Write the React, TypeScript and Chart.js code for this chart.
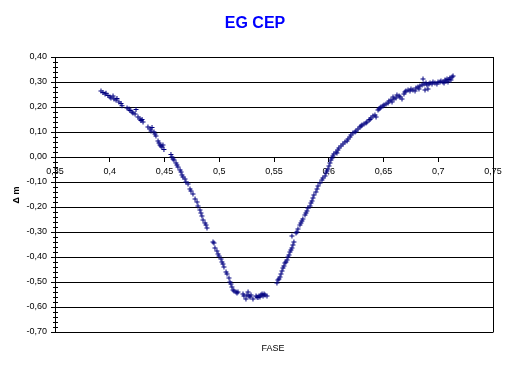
import React, { useEffect, useRef } from "react";
import { Chart, registerables } from "chart.js";

Chart.register(...registerables);

const TITLE = "EG CEP";
const X_TITLE = "FASE";
const Y_TITLE = "Δ m";

const X_MIN = 0.35;
const X_MAX = 0.75;
const X_STEP = 0.05;
const Y_MIN = -0.7;
const Y_MAX = 0.4;
const Y_STEP = 0.1;
const Y_MINOR_STEP = 0.02;

const PHASE = [
  0.3920, 0.3938, 0.3957, 0.3966, 0.3984, 0.4002, 0.4011, 0.4030, 0.4039, 0.4057,
  0.4066, 0.4084, 0.4103, 0.4112, 0.4158, 0.4176, 0.4185, 0.4203, 0.4212, 0.4231,
  0.4240, 0.4258, 0.4276, 0.4285, 0.4295, 0.4304, 0.4349, 0.4368, 0.4377, 0.4386,
  0.4404, 0.4413, 0.4422, 0.4441, 0.4450, 0.4459, 0.4468, 0.4477, 0.4486, 0.4495,
  0.4559, 0.4568, 0.4578, 0.4587, 0.4605, 0.4614, 0.4623, 0.4642, 0.4651, 0.4660,
  0.4669, 0.4687, 0.4696, 0.4715, 0.4733, 0.4742, 0.4760, 0.4779, 0.4797, 0.4806,
  0.4824, 0.4833, 0.4842, 0.4852, 0.4870, 0.4879, 0.4888,
  0.4943, 0.4952, 0.4961, 0.4979, 0.4989, 0.4998, 0.5016, 0.5025, 0.5034, 0.5043,
  0.5062, 0.5071, 0.5089, 0.5098, 0.5107, 0.5116, 0.5126, 0.5135, 0.5153, 0.5162,
  0.5171, 0.5217, 0.5226, 0.5244, 0.5253, 0.5263, 0.5272, 0.5281, 0.5290, 0.5308,
  0.5336, 0.5345, 0.5354, 0.5363, 0.5372, 0.5381, 0.5391, 0.5400, 0.5409, 0.5418,
  0.5436,
  0.5527, 0.5536, 0.5545, 0.5555, 0.5564, 0.5573, 0.5582, 0.5591, 0.5600, 0.5609,
  0.5619, 0.5628, 0.5637, 0.5646, 0.5655, 0.5664, 0.5664, 0.5673, 0.5682, 0.5701,
  0.5710, 0.5719, 0.5737, 0.5746, 0.5755, 0.5764, 0.5783, 0.5792, 0.5801, 0.5810,
  0.5829, 0.5838, 0.5847, 0.5856, 0.5865, 0.5883, 0.5893, 0.5902, 0.5920, 0.5938,
  0.5947, 0.5966, 0.5975, 0.5984, 0.5993, 0.6002, 0.6011, 0.6020, 0.6029, 0.6038,
  0.6047, 0.6066, 0.6075, 0.6084, 0.6093, 0.6112, 0.6130, 0.6148, 0.6167, 0.6176,
  0.6194, 0.6203, 0.6221, 0.6240, 0.6249, 0.6267, 0.6285, 0.6295, 0.6304, 0.6322,
  0.6340, 0.6349, 0.6368, 0.6377, 0.6386, 0.6404, 0.6422, 0.6432, 0.6450, 0.6459,
  0.6468, 0.6477, 0.6495, 0.6505, 0.6523, 0.6541, 0.6550, 0.6568, 0.6578, 0.6587,
  0.6596, 0.6614, 0.6623, 0.6642, 0.6651, 0.6669, 0.6687, 0.6696, 0.6705, 0.6724,
  0.6742, 0.6751, 0.6769, 0.6788, 0.6797, 0.6815, 0.6824, 0.6833, 0.6852, 0.6861,
  0.6870, 0.6879, 0.6888, 0.6897, 0.6906, 0.6915, 0.6925, 0.6943, 0.6952, 0.6970,
  0.6988, 0.6998, 0.7016, 0.7025, 0.7043, 0.7053, 0.7062, 0.7071, 0.7080, 0.7089,
  0.7098, 0.7107, 0.7116, 0.7126, 0.7135,
];

const DELTA_M = [
  0.264, 0.258, 0.252, 0.255, 0.246, 0.240, 0.236, 0.244, 0.232, 0.228,
  0.234, 0.220, 0.214, 0.205, 0.196, 0.192, 0.186, 0.180, 0.176, 0.172,
  0.190, 0.160, 0.152, 0.146, 0.150, 0.140, 0.120, 0.112, 0.104, 0.118,
  0.100, 0.092, 0.084, 0.064, 0.056, 0.048, 0.044, 0.040, 0.048, 0.030,
  0.010, 0.000, -0.008, -0.012, -0.024, -0.032, -0.040, -0.052, -0.060, -0.072,
  -0.080, -0.088, -0.100, -0.108, -0.128, -0.136, -0.148, -0.168, -0.180, -0.196,
  -0.212, -0.224, -0.236, -0.252, -0.264, -0.272, -0.284,
  -0.340, -0.344, -0.364, -0.376, -0.388, -0.396, -0.408, -0.420, -0.428, -0.440,
  -0.460, -0.468, -0.484, -0.500, -0.508, -0.520, -0.532, -0.536, -0.540, -0.544,
  -0.540, -0.548, -0.556, -0.568, -0.552, -0.540, -0.556, -0.560, -0.552, -0.568,
  -0.556, -0.560, -0.562, -0.556, -0.560, -0.552, -0.548, -0.556, -0.548, -0.552,
  -0.556,
  -0.504, -0.492, -0.488, -0.480, -0.468, -0.456, -0.444, -0.436, -0.424, -0.420,
  -0.412, -0.400, -0.392, -0.380, -0.372, -0.316, -0.364, -0.352, -0.340, -0.304,
  -0.300, -0.288, -0.272, -0.264, -0.256, -0.248, -0.232, -0.224, -0.216, -0.204,
  -0.196, -0.184, -0.176, -0.164, -0.152, -0.140, -0.128, -0.116, -0.104, -0.092,
  -0.084, -0.076, -0.064, -0.056, -0.048, -0.036, -0.024, -0.012, -0.004, 0.004,
  0.012, 0.020, 0.016, 0.028, 0.036, 0.044, 0.052, 0.060, 0.064, 0.072,
  0.080, 0.088, 0.096, 0.100, 0.104, 0.112, 0.120, 0.124, 0.128, 0.132,
  0.136, 0.140, 0.148, 0.150, 0.156, 0.164, 0.168, 0.160, 0.188, 0.192,
  0.196, 0.200, 0.204, 0.208, 0.212, 0.216, 0.224, 0.228, 0.220, 0.240,
  0.232, 0.236, 0.248, 0.244, 0.240, 0.232, 0.252, 0.260, 0.264, 0.268,
  0.264, 0.272, 0.268, 0.264, 0.276, 0.280, 0.272, 0.284, 0.288, 0.312,
  0.292, 0.268, 0.296, 0.288, 0.272, 0.292, 0.296, 0.292, 0.300, 0.296,
  0.292, 0.300, 0.300, 0.304, 0.300, 0.296, 0.308, 0.304, 0.312, 0.300,
  0.310, 0.316, 0.308, 0.320, 0.324,
];

const FONT = "'Liberation Sans', Arial, Helvetica, sans-serif";

const fmtX = (v: number) => String(Math.round(v * 100) / 100).replace(".", ",");
const fmtY = (v: number) => (Math.round(v * 100) / 100).toFixed(2).replace(".", ",");

const decorPlugin = {
  id: "decor",
  afterDraw(chart: any) {
    const { ctx, chartArea, scales } = chart;
    const ys = scales.y;
    ctx.save();
    ctx.strokeStyle = "#000";
    ctx.lineWidth = 1;
    ctx.beginPath();
    const rx = Math.round(chartArea.right) + 0.5;
    ctx.moveTo(rx, chartArea.top);
    ctx.lineTo(rx, chartArea.bottom + 0.5);
    const n = Math.round((Y_MAX - Y_MIN) / Y_MINOR_STEP);
    const lx = Math.round(chartArea.left);
    for (let i = 0; i <= n; i++) {
      const v = Y_MIN + i * Y_MINOR_STEP;
      const py = Math.round(ys.getPixelForValue(v)) + 0.5;
      ctx.moveTo(lx - 2, py);
      ctx.lineTo(lx + 3, py);
    }
    ctx.stroke();

    ctx.fillStyle = "#0000FF";
    ctx.font = `bold 16px ${FONT}`;
    ctx.textAlign = "center";
    ctx.textBaseline = "middle";
    ctx.fillText(TITLE, 255, 24);

    ctx.fillStyle = "#000";
    ctx.font = `9px ${FONT}`;
    ctx.fillText(X_TITLE, 273, 349);

    ctx.translate(17, 195);
    ctx.rotate(-Math.PI / 2);
    ctx.font = `bold 9px ${FONT}`;
    ctx.fillText(Y_TITLE, 0, 0);
    ctx.restore();
  },
};

export default function App() {
  const ref = useRef<HTMLCanvasElement | null>(null);

  useEffect(() => {
    if (!ref.current) return;
    const points = PHASE.map((x, i) => ({ x, y: DELTA_M[i] }));
    const chart = new Chart(ref.current, {
      type: "scatter",
      data: {
        datasets: [
          {
            data: points,
            pointStyle: "cross",
            pointRadius: 2.5,
            pointBorderWidth: 1,
            borderColor: "#000080",
            backgroundColor: "#000080",
            pointBorderColor: "#000080",
          },
        ],
      },
      options: {
        responsive: false,
        animation: false,
        events: [],
        layout: { padding: { left: 0, top: 57, right: 32, bottom: 39 } },
        plugins: {
          legend: { display: false },
          tooltip: { enabled: false },
          title: { display: false },
        },
        scales: {
          x: {
            type: "linear",
            min: X_MIN,
            max: X_MAX,
            position: { y: 0 },
            afterFit: (s: any) => {
              s.height = 0;
            },
            grid: {
              display: true,
              drawOnChartArea: false,
              drawTicks: true,
              tickLength: 4,
              color: "#000",
            },
            border: { display: true, color: "#000", width: 1 },
            ticks: {
              stepSize: X_STEP,
              padding: 5,
              maxRotation: 0,
              autoSkip: false,
              color: "#000",
              font: { family: FONT, size: 9 },
              callback: (v: any) => fmtX(Number(v)),
            },
          },
          y: {
            type: "linear",
            min: Y_MIN,
            max: Y_MAX,
            position: "left",
            afterFit: (s: any) => {
              s.width = 55;
            },
            grid: {
              display: true,
              drawOnChartArea: true,
              drawTicks: true,
              tickLength: 4,
              color: "#000",
              lineWidth: 1,
            },
            border: { display: true, color: "#000", width: 1 },
            ticks: {
              stepSize: Y_STEP,
              padding: 4,
              autoSkip: false,
              color: "#000",
              font: { family: FONT, size: 9 },
              callback: (v: any) => fmtY(Number(v)),
            },
          },
        },
      },
      plugins: [decorPlugin],
    });
    return () => chart.destroy();
  }, []);

  return (
    <div style={{ position: "absolute", left: 0, top: 0, width: 525, height: 371, background: "#fff" }}>
      <canvas ref={ref} width={525} height={371} style={{ display: "block" }} />
    </div>
  );
}
